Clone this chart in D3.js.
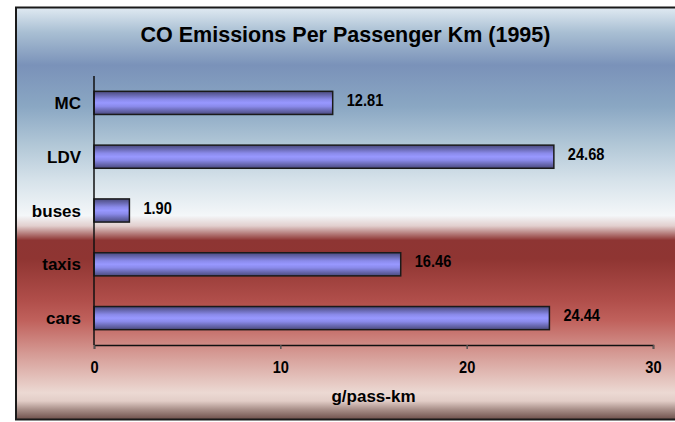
<!DOCTYPE html>
<html>
<head>
  <meta charset="utf-8" />
  <title>CO Emissions Per Passenger Km (1995)</title>
  <script src="https://d3js.org/d3.v7.min.js"></script>
  <style>
    html, body { margin: 0; padding: 0; overflow: hidden; background: #fff; }
    svg { display: block; }
    .lbl { font-family: "Liberation Sans", Arial, sans-serif; font-weight: bold; fill: #000; }
    .num { font-family: "Liberation Sans", Arial, sans-serif; font-weight: bold; fill: #000; }
  </style>
</head>
<body>
  <svg id="chart"></svg>
  <script>
    // data
    var categories = ["MC", "LDV", "buses", "taxis", "cars"];
    var values = [12.81, 24.68, 1.90, 16.46, 24.44];
    var tickValues = [0, 10, 20, 30];
    var title = "CO Emissions Per Passenger Km (1995)";
    var axisTitle = "g/pass-km";

    var width = 675, height = 422;
    var narrow = 0.86; // numbers look horizontally squeezed in the original
    var svg = d3.select("#chart").attr("width", width).attr("height", height);
    var defs = svg.append("defs");

    // background gradient, blue sky over red
    var bg = defs.append("linearGradient").attr("id", "bg")
      .attr("x1", 0).attr("y1", 0).attr("x2", 0).attr("y2", 1);
    [[0, "#e0eaf2"], [0.06, "#a9bfd3"], [0.14, "#7a92b9"], [0.24, "#8aa7c3"],
     [0.33, "#b0c6d6"], [0.42, "#d6e2ea"], [0.505, "#f4f7f9"], [0.53, "#e2cfce"],
     [0.565, "#8e3533"], [0.61, "#8f3532"], [0.71, "#b04e4a"], [0.76, "#c0615c"],
     [0.84, "#d59a94"], [0.935, "#ecd9d3"], [0.955, "#e2cdc7"], [0.975, "#aa918b"],
     [1, "#6e504b"]]
      .forEach(function (s) {
        bg.append("stop").attr("offset", s[0]).attr("stop-color", s[1]);
      });

    // bar gradient
    var bar = defs.append("linearGradient").attr("id", "bar")
      .attr("x1", 0).attr("y1", 0).attr("x2", 0).attr("y2", 1);
    [[0, "#4a4a7e"], [0.18, "#6a6ab4"], [0.35, "#8a8aea"], [0.5, "#9898ff"],
     [0.65, "#8a8aea"], [0.82, "#6a6ab4"], [1, "#4a4a7e"]]
      .forEach(function (s) {
        bar.append("stop").attr("offset", s[0]).attr("stop-color", s[1]);
      });

    svg.append("rect")
      .attr("x", 16).attr("y", 7.5)
      .attr("width", 680).attr("height", 412)
      .attr("fill", "url(#bg)")
      .attr("stroke", "#1a1a1a").attr("stroke-width", 2);

    var x = d3.scaleLinear().domain([0, 30]).range([94, 653]);
    var y = d3.scaleBand().domain(categories).range([76, 345])
      .paddingInner(0.57).paddingOuter(0.285);

    // title
    svg.append("text").attr("class", "lbl")
      .attr("x", 345.5).attr("y", 42)
      .attr("text-anchor", "middle")
      .style("font-size", "21.5px")
      .text(title);

    // bars
    svg.selectAll("rect.bar")
      .data(values)
      .enter().append("rect")
      .attr("class", "bar")
      .attr("x", x(0))
      .attr("y", function (d, i) { return y(categories[i]); })
      .attr("width", function (d) { return x(d) - x(0); })
      .attr("height", y.bandwidth())
      .attr("fill", "url(#bar)")
      .attr("stroke", "#1a1a1a").attr("stroke-width", 1.5);

    // value labels
    svg.selectAll("text.val")
      .data(values)
      .enter().append("text")
      .attr("class", "num val")
      .attr("transform", function (d, i) {
        return "translate(" + (x(d) + 14) + "," + (y(categories[i]) + y.bandwidth() / 2 + 3) + ") scale(" + narrow + ",1)";
      })
      .style("font-size", "17px")
      .text(function (d) { return d.toFixed(2); });

    // category labels
    svg.selectAll("text.cat")
      .data(categories)
      .enter().append("text")
      .attr("class", "lbl cat")
      .attr("x", 81)
      .attr("y", function (d) { return y(d) + y.bandwidth() / 2 + 6; })
      .attr("text-anchor", "end")
      .style("font-size", "17px")
      .text(function (d) { return d; });

    // y axis line
    svg.append("line")
      .attr("x1", x(0)).attr("x2", x(0))
      .attr("y1", 76).attr("y2", 345)
      .attr("stroke", "#111").attr("stroke-width", 1.5);

    // x axis
    var xAxis = svg.append("g")
      .attr("transform", "translate(0,345)")
      .call(d3.axisBottom(x).tickValues(tickValues).tickSize(4).tickSizeOuter(4).tickPadding(12));
    xAxis.select(".domain").attr("stroke", "#111").attr("stroke-width", 1.5);
    xAxis.selectAll(".tick line").attr("stroke", "#555").attr("stroke-width", 1.5);
    xAxis.selectAll(".tick text")
      .attr("class", "num")
      .attr("fill", "#000")
      .attr("transform", "scale(" + narrow + ",1)")
      .style("font-size", "17px");
    xAxis.selectAll(".tick text").attr("x", 0);

    // axis title
    svg.append("text").attr("class", "lbl")
      .attr("x", (x(0) + x(30)) / 2).attr("y", 402)
      .attr("text-anchor", "middle")
      .style("font-size", "17px")
      .text(axisTitle);
  </script>
</body>
</html>
